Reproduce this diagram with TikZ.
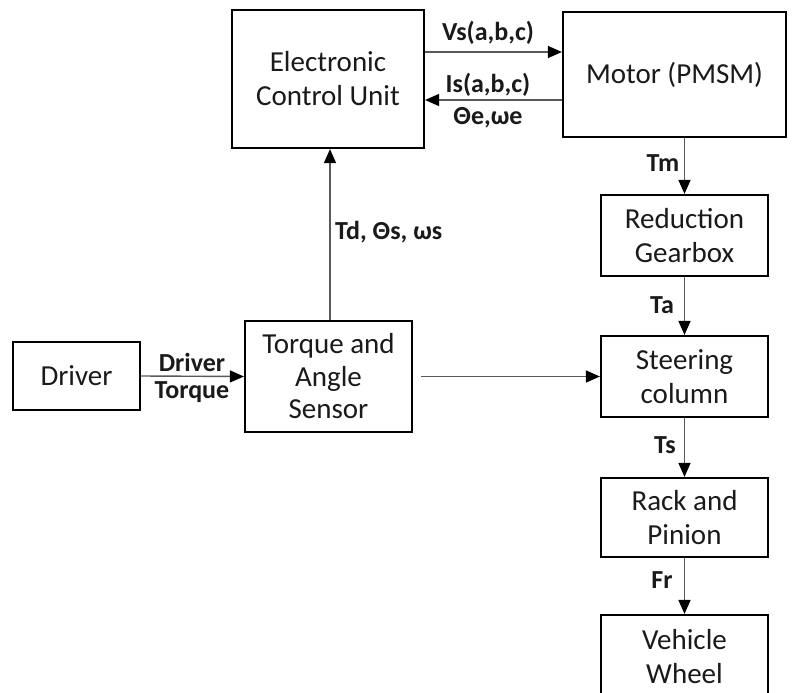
\documentclass[tikz,border=0pt]{standalone}
\usepackage{fontspec}
\setmainfont{Carlito}
\usetikzlibrary{arrows.meta}
\definecolor{txt}{HTML}{1A1A1A}
\definecolor{conn}{HTML}{5A5A5A}
\tikzset{
  blk/.style={draw=black, line width=2.2pt, rectangle, align=center, inner sep=0pt,
    text=txt, font=\fontsize{29}{34}\selectfont},
  lbl/.style={text=txt, font=\fontsize{26}{30}\selectfont\bfseries, inner sep=0pt},
  conn/.style={draw=conn, line width=1.4pt, -{Triangle[length=14pt,width=12pt,black]}}
}
\begin{document}
\begin{tikzpicture}[x=1pt,y=-1pt]
\useasboundingbox (0,0) rectangle (795,693);
\clip (0,0) rectangle (795,693);
\fill[white] (0,0) rectangle (795,693);
% blocks
\node[blk, minimum width=192pt, minimum height=138pt] (ecu) at (328,79) {Electronic\\Control Unit};
\node[blk, minimum width=223pt, minimum height=125pt] (motor) at (674.5,74.5) {Motor (PMSM)};
\node[blk, minimum width=167pt, minimum height=81pt] (gear) at (684.5,235.5) {Reduction\\Gearbox};
\node[blk, minimum width=167pt, minimum height=81pt] (steer) at (684.5,376.5) {Steering\\column};
\node[blk, minimum width=167pt, minimum height=79pt] (rack) at (684.5,517.5) {Rack and\\Pinion};
\node[blk, minimum width=167pt, minimum height=84pt] (wheel) at (684.5,657) {Vehicle\\Wheel};
\node[blk, minimum width=127pt, minimum height=68pt] (driver) at (76.5,376) {Driver};
\node[blk, minimum width=167pt, minimum height=111pt, font=\fontsize{29}{32.5}\selectfont] (sensor) at (328.5,376.5) {Torque and\\Angle\\Sensor};
% connectors
\draw[conn] (ecu.east |- 0,52) -- (motor.west |- 0,52);
\draw[conn] (motor.west |- 0,100) -- (ecu.east |- 0,100);
\draw[conn] (gear.north |- motor.south) -- (gear.north);
\draw[conn] (gear.south) -- (steer.north);
\draw[conn] (steer.south) -- (rack.north);
\draw[conn] (rack.south) -- (wheel.north);
\draw[conn] (driver.east) -- (sensor.west);
\draw[conn] (sensor.north -| 330,0) -- (ecu.south -| 330,0);
\draw[conn, shorten <=8pt] (sensor.east) -- (steer.west);
% labels
\node[lbl] (lvs) at (488,33) {Vs(a,b,c)};
\node[lbl] (lis) at (488,85) {Is(a,b,c)};
\node[lbl] (lth) at (488,118) {Θe,ωe};
\node[lbl, anchor=west] (ltd) at (335,232) {Td, Θs, ωs};
\node[lbl] (ldr) at (192,362) {Driver};
\node[lbl] (ltq) at (192,392) {Torque};
\node[lbl] (ltm) at (663,163) {Tm};
\node[lbl] (lta) at (662,305) {Ta};
\node[lbl] (lts) at (665,445) {Ts};
\node[lbl] (lfr) at (662,580) {Fr};
\end{tikzpicture}
\end{document}
